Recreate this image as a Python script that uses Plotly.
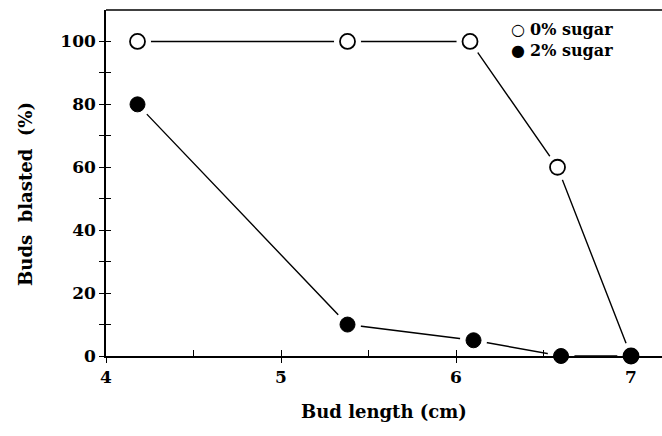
import plotly.graph_objects as go

x_len = [4.18, 5.38, 6.08, 6.58, 7.0]
sugar0 = [100, 100, 100, 60, 0]
x_len2 = [4.18, 5.38, 6.1, 6.6, 7.0]
sugar2 = [80, 10, 5, 0, 0]
names = ["0% sugar", "2% sugar"]
x_ticks = [4, 5, 6, 7]
y_ticks = [0, 20, 40, 60, 80, 100]

FONT = "DejaVu Serif"
fig = go.Figure()
for xs, ys in [(x_len, sugar0), (x_len2, sugar2)]:
    fig.add_trace(go.Scatter(x=xs, y=ys, mode="lines", line=dict(color="black", width=1.4),
                             showlegend=False, hoverinfo="skip", cliponaxis=False))
for xs, ys in [(x_len, sugar0), (x_len2, sugar2)]:
    fig.add_trace(go.Scatter(x=xs, y=ys, mode="markers",
                             marker=dict(size=27, color="white", line=dict(width=0)),
                             showlegend=False, hoverinfo="skip", cliponaxis=False))
fig.add_trace(go.Scatter(x=x_len, y=sugar0, mode="markers", name=names[0], showlegend=False,
                         marker=dict(size=15, color="white", line=dict(color="black", width=1.8)),
                         cliponaxis=False))
fig.add_trace(go.Scatter(x=x_len2, y=sugar2, mode="markers", name=names[1], showlegend=False,
                         marker=dict(size=15, color="black", line=dict(color="black", width=1)),
                         cliponaxis=False))
fig.add_trace(go.Scatter(x=[None], y=[None], xaxis="x2", yaxis="y2", showlegend=False))

axis_common = dict(showgrid=False, zeroline=False, linecolor="black", linewidth=1.5,
                   tickcolor="black", tickwidth=1.2)
fig.update_layout(
    width=662, height=436,
    margin=dict(l=106, r=0, t=10, b=80),
    plot_bgcolor="white", paper_bgcolor="white",
    font=dict(family=FONT, color="black", size=16),
    showlegend=False,
    xaxis=dict(range=[4, 7.177], tickvals=x_ticks, ticktext=[f"<b>{v}</b>" for v in x_ticks],
               ticks="outside", ticklen=5, showline=True, tickfont=dict(size=17), **axis_common),
    yaxis=dict(range=[0, 110], tickvals=y_ticks, ticktext=[f"<b>{v}</b>" for v in y_ticks],
               ticks="outside", ticklen=5, showline=True, tickfont=dict(size=17),
               minor=dict(tickvals=[10, 30, 50, 70, 90], ticks="outside", ticklen=5,
                          tickcolor="black", tickwidth=1.2), **axis_common),
    xaxis2=dict(range=[4, 7.177], overlaying="x", side="bottom", anchor="y2",
                tickvals=[4, 4.5, 5, 5.5, 6, 6.5, 7], ticks="inside", ticklen=6,
                showticklabels=False, showline=False, showgrid=False, zeroline=False,
                tickcolor="black", tickwidth=1.2),
    yaxis2=dict(range=[0, 110], overlaying="y", side="left", anchor="x2",
                tickvals=[0, 10, 20, 30, 40, 50, 60, 70, 80, 90, 100], ticks="inside", ticklen=5,
                showticklabels=False, showline=False, showgrid=False, zeroline=False,
                tickcolor="black", tickwidth=1.2),
    shapes=[dict(type="line", xref="paper", yref="paper", x0=0, x1=1, y0=1, y1=1,
                 line=dict(color="black", width=1.5))],
    annotations=[
        dict(text="<b>Buds  blasted  (%)</b>", xref="paper", yref="paper", x=-0.146, y=0.468,
             textangle=-90, showarrow=False, font=dict(size=18), xanchor="center", yanchor="middle"),
        dict(text="<b>Bud length (cm)</b>", xref="paper", yref="paper", x=0.5, y=-0.16,
             showarrow=False, font=dict(size=18), xanchor="center", yanchor="middle"),
        dict(text="○ <b>" + names[0] + "</b><br>● <b>" + names[1] + "</b>",
             xref="paper", yref="paper", x=0.725, y=0.912, align="left",
             showarrow=False, font=dict(size=16), xanchor="left", yanchor="middle"),
    ],
)
fig.write_html("out.html")
